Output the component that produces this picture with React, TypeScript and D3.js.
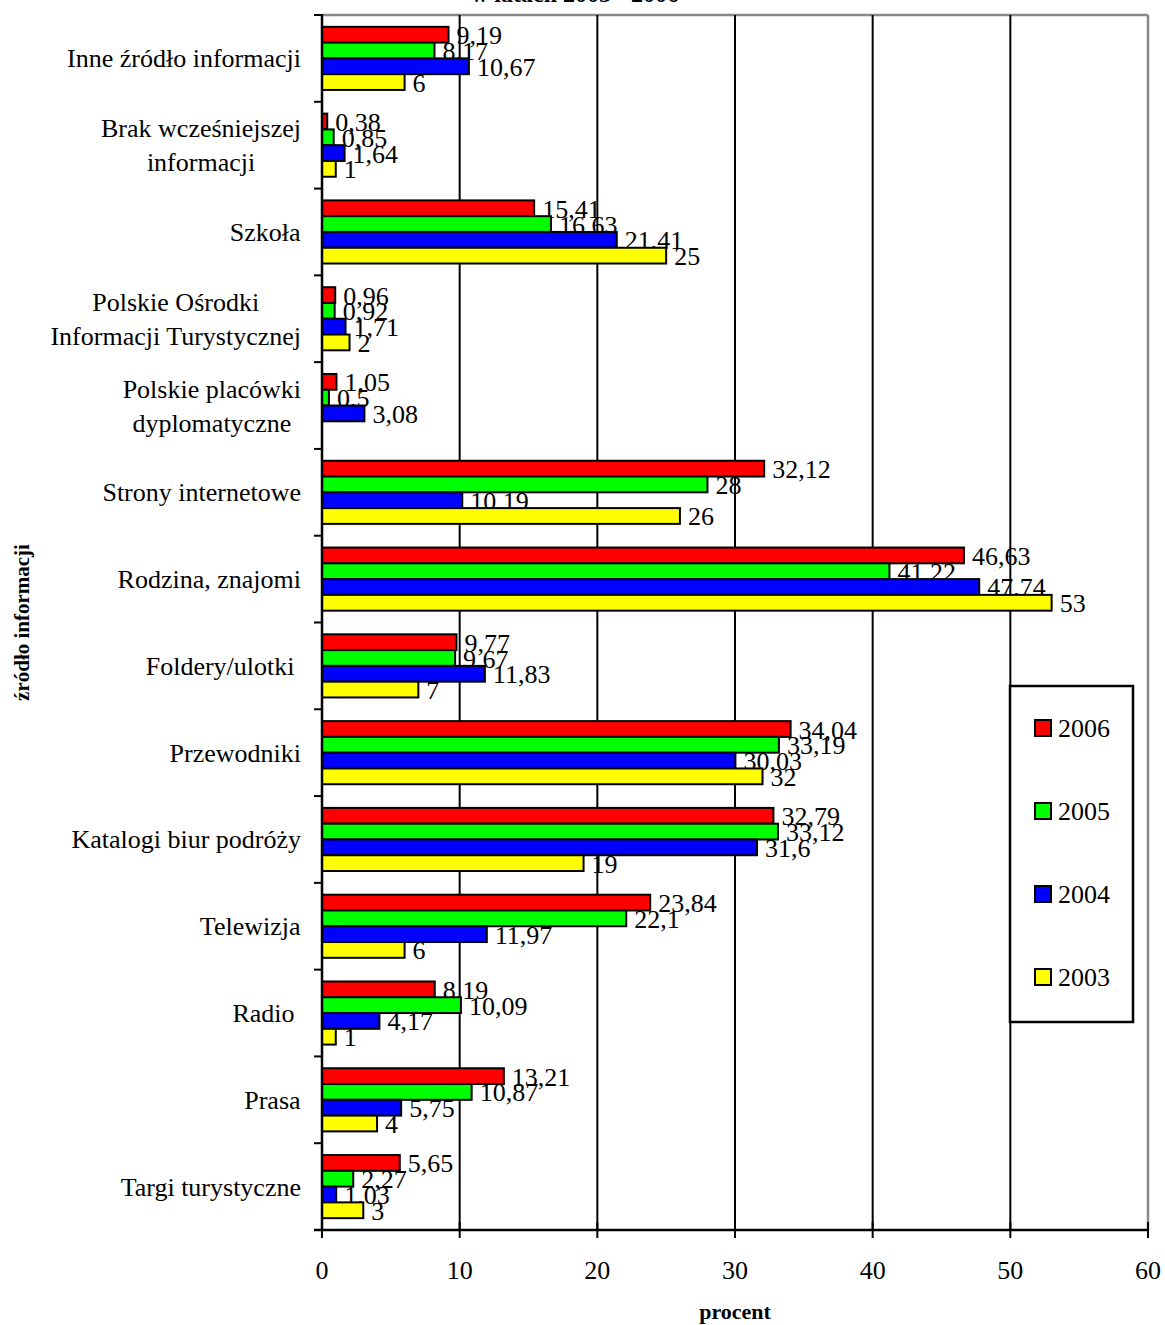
import React, { useEffect, useRef } from 'react';
import * as d3 from 'd3';

// categories, top to bottom (lines split for two-line labels)
const categories: string[][] = [
	['Inne źródło informacji'],
	['Brak wcześniejszej', 'informacji'],
	['Szkoła'],
	['Polskie Ośrodki', 'Informacji Turystycznej'],
	['Polskie placówki', 'dyplomatyczne'],
	['Strony internetowe'],
	['Rodzina, znajomi'],
	['Foldery/ulotki '],
	['Przewodniki'],
	['Katalogi biur podróży'],
	['Telewizja'],
	['Radio '],
	['Prasa'],
	['Targi turystyczne'],
];

const years = ['2006', '2005', '2004', '2003'];
const yearColors = ['#ff0000', '#00ff00', '#0000ff', '#ffff00'];

const v2006 = [9.19, 0.38, 15.41, 0.96, 1.05, 32.12, 46.63, 9.77, 34.04, 32.79, 23.84, 8.19, 13.21, 5.65];
const v2005 = [8.17, 0.85, 16.63, 0.92, 0.5, 28, 41.22, 9.67, 33.19, 33.12, 22.1, 10.09, 10.87, 2.27];
const v2004 = [10.67, 1.64, 21.41, 1.71, 3.08, 10.19, 47.74, 11.83, 30.03, 31.6, 11.97, 4.17, 5.75, 1.03];
const v2003: (number | null)[] = [6, 1, 25, 2, null, 26, 53, 7, 32, 19, 6, 1, 4, 3];

const xTicks = [0, 10, 20, 30, 40, 50, 60];

const W = 1165;
const H = 1325;
const FONT = '"Liberation Serif", "Times New Roman", serif';

const App: React.FC = () => {
	const ref = useRef<SVGSVGElement>(null);

	useEffect(() => {
		const svg = d3.select(ref.current);
		svg.selectAll('*').remove();

		const left = 322;
		const right = 1148;
		const top = 15;
		const bottom = 1230;

		const x = d3.scaleLinear().domain([0, 60]).range([left, right]);
		const keys = categories.map((c, i) => String(i));
		const y = d3.scaleBand().domain(keys).range([top, bottom]).padding(0);
		const yInner = d3.scaleBand().domain(years).range([0, y.step()]).paddingInner(0).paddingOuter(0.75);

		const series = [v2006, v2005, v2004, v2003];
		const rows: { cat: string; year: string; value: number; color: string }[] = [];
		series.forEach((s, si) => {
			s.forEach((v, ci) => {
				if (v === null) return;
				rows.push({ cat: keys[ci], year: years[si], value: v, color: yearColors[si] });
			});
		});

		// cut-off title at the very top
		svg.append('text')
			.attr('x', 575)
			.attr('y', 2)
			.attr('text-anchor', 'middle')
			.style('font-family', FONT)
			.style('font-size', '24px')
			.style('font-weight', 'bold')
			.text('w latach 2003 - 2006');

		// value labels (sit underneath grid and bars)
		svg.append('g')
			.selectAll('text')
			.data(rows)
			.join('text')
			.attr('x', (d) => x(d.value) + 8)
			.attr('y', (d) => (y(d.cat) as number) + (yInner(d.year) as number) + yInner.bandwidth() / 2 + 1)
			.attr('dominant-baseline', 'central')
			.style('font-family', FONT)
			.style('font-size', '26px')
			.text((d) => String(d.value).replace('.', ','));

		// plot frame (grey top/right)
		svg.append('line')
			.attr('x1', left).attr('x2', right).attr('y1', top).attr('y2', top)
			.attr('stroke', '#888').attr('stroke-width', 2.5);
		svg.append('line')
			.attr('x1', right).attr('x2', right).attr('y1', top).attr('y2', bottom)
			.attr('stroke', '#888').attr('stroke-width', 2.5);

		// vertical gridlines
		svg.append('g')
			.selectAll('line')
			.data(xTicks.filter((t) => t > 0 && t < 60))
			.join('line')
			.attr('x1', (d) => x(d)).attr('x2', (d) => x(d))
			.attr('y1', top).attr('y2', bottom)
			.attr('stroke', '#000').attr('stroke-width', 2);

		// bars
		svg.append('g')
			.selectAll('rect')
			.data(rows)
			.join('rect')
			.attr('x', x(0))
			.attr('y', (d) => (y(d.cat) as number) + (yInner(d.year) as number))
			.attr('width', (d) => x(d.value) - x(0))
			.attr('height', yInner.bandwidth())
			.attr('fill', (d) => d.color)
			.attr('stroke', '#000')
			.attr('stroke-width', 2);

		// left axis
		const gy = svg.append('g');
		gy.append('line')
			.attr('x1', left).attr('x2', left).attr('y1', top - 1).attr('y2', bottom)
			.attr('stroke', '#000').attr('stroke-width', 2.5);
		const bounds = keys.map((k) => y(k) as number).concat([bottom]);
		gy.selectAll('line.tk')
			.data(bounds)
			.join('line')
			.attr('class', 'tk')
			.attr('x1', left - 8).attr('x2', left)
			.attr('y1', (d) => d).attr('y2', (d) => d)
			.attr('stroke', '#000').attr('stroke-width', 2);

		// category labels: lines centred within a right-aligned block
		categories.forEach((lines, i) => {
			const cy = (y(keys[i]) as number) + y.bandwidth() / 2;
			const g = svg.append('g');
			const lh = 34;
			const t = g.append('text')
				.attr('text-anchor', 'middle')
				.style('font-family', FONT)
				.style('font-size', '26px');
			lines.forEach((ln, j) => {
				t.append('tspan')
					.attr('x', 0)
					.attr('y', cy + 9 + (j - (lines.length - 1) / 2) * lh)
					.attr('xml:space', 'preserve')
					.style('white-space', 'pre')
					.text(ln);
			});
			const box = (t.node() as SVGTextElement).getBBox();
			g.attr('transform', `translate(${301 - (box.x + box.width)},0)`);
		});

		// bottom axis
		const gx = svg.append('g');
		gx.append('line')
			.attr('x1', left - 8).attr('x2', right).attr('y1', bottom).attr('y2', bottom)
			.attr('stroke', '#000').attr('stroke-width', 2.5);
		gx.selectAll('line.tk')
			.data(xTicks)
			.join('line')
			.attr('class', 'tk')
			.attr('x1', (d) => x(d)).attr('x2', (d) => x(d))
			.attr('y1', bottom - 8).attr('y2', bottom + 8)
			.attr('stroke', '#000').attr('stroke-width', 2);
		gx.selectAll('text')
			.data(xTicks)
			.join('text')
			.attr('x', (d) => x(d))
			.attr('y', 1279)
			.attr('text-anchor', 'middle')
			.style('font-family', FONT)
			.style('font-size', '26px')
			.text((d) => String(d));

		// axis titles
		svg.append('text')
			.attr('x', 735)
			.attr('y', 1319)
			.attr('text-anchor', 'middle')
			.style('font-family', FONT)
			.style('font-size', '22px')
			.style('font-weight', 'bold')
			.text('procent');
		svg.append('text')
			.attr('transform', `translate(29,${(top + bottom) / 2}) rotate(-90)`)
			.attr('text-anchor', 'middle')
			.style('font-family', FONT)
			.style('font-size', '21px')
			.style('font-weight', 'bold')
			.text('źródło informacji');

		// legend
		const lg = svg.append('g');
		lg.append('rect')
			.attr('x', 1010).attr('y', 686).attr('width', 123).attr('height', 336)
			.attr('fill', '#fff').attr('stroke', '#000').attr('stroke-width', 2.5);
		years.forEach((yr, i) => {
			const cy = 728 + i * 83;
			lg.append('rect')
				.attr('x', 1035).attr('y', cy - 8).attr('width', 16).attr('height', 16)
				.attr('fill', yearColors[i]).attr('stroke', '#000').attr('stroke-width', 2);
			lg.append('text')
				.attr('x', 1058).attr('y', cy + 9)
				.style('font-family', FONT)
				.style('font-size', '26px')
				.text(yr);
		});
	}, []);

	return (
		<div style={{ position: 'absolute', left: 0, top: 0 }}>
			<svg ref={ref} width={W} height={H} style={{ display: 'block', background: '#fff' }} />
		</div>
	);
};

export default App;
